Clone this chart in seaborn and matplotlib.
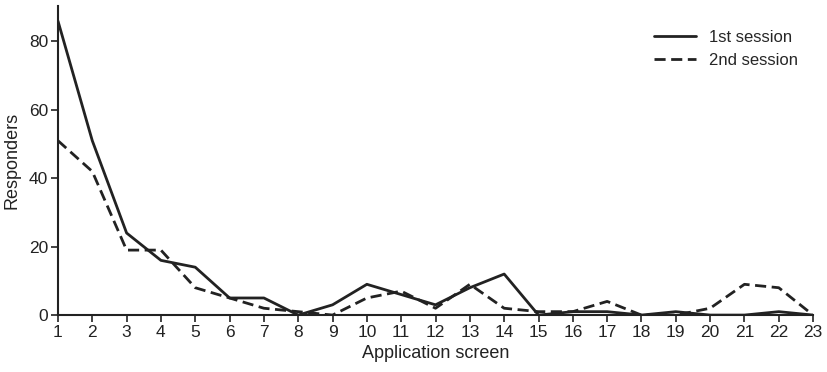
import pandas as pd
import matplotlib.pyplot as plt
import seaborn as sns

screens = list(range(1, 24))
first_session = [86, 51, 24, 16, 14, 5, 5, 0, 3, 9, 6, 3, 8, 12, 0, 1, 1, 0, 1, 0, 0, 1, 0]
second_session = [51, 42, 19, 19, 8, 5, 2, 1, 0, 5, 7, 2, 9, 2, 1, 1, 4, 0, 0, 2, 9, 8, 0]

df = pd.DataFrame({
    'screen': screens * 2,
    'responders': first_session + second_session,
    'session': ['1st session'] * 23 + ['2nd session'] * 23,
})

sns.set_style('ticks')
plt.rcParams['font.family'] = ['Liberation Sans', 'DejaVu Sans']
ink = '#222222'

fig, ax = plt.subplots(figsize=(8.28, 3.72), dpi=100)
sns.lineplot(data=df, x='screen', y='responders', hue='session', style='session',
             palette=[ink, ink], dashes=[(None, None), (4, 2)], linewidth=2, ax=ax)

ax.set_xlim(1, 23)
ax.set_ylim(0, 90.5)
ax.set_xticks(screens)
ax.set_yticks([0, 20, 40, 60, 80])
ax.set_xlabel('Application screen', fontsize=13, color=ink, labelpad=4)
ax.set_ylabel('Responders', fontsize=13, color=ink, labelpad=6)
ax.tick_params(labelsize=12.5, colors=ink, width=1.2, length=5, pad=2)
for side in ['left', 'bottom']:
    ax.spines[side].set_linewidth(1.5)
    ax.spines[side].set_color(ink)
sns.despine(ax=ax)

leg = ax.legend(loc='upper right', frameon=False, fontsize=12, handlelength=2.5,
                bbox_to_anchor=(1.0, 0.97))
for line in leg.get_lines():
    line.set_linewidth(2)

fig.subplots_adjust(left=0.07, right=0.982, top=0.985, bottom=0.153)
fig.savefig('out.png', dpi=100)
